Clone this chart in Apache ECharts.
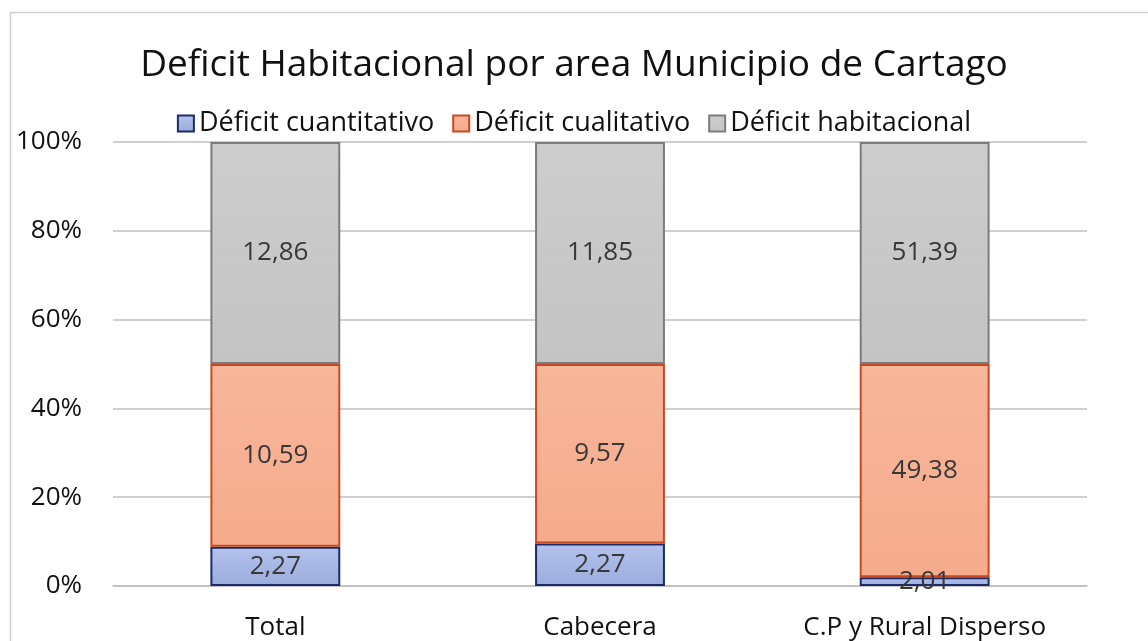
<!DOCTYPE html>
<html>
<head>
<meta charset="utf-8">
<script src="https://cdn.jsdelivr.net/npm/echarts@6/dist/echarts.min.js"></script>
<style>
  html, body { margin: 0; padding: 0; background: #fff; }
  #chart { width: 1148px; height: 641px; }
</style>
</head>
<body>
<div id="chart"></div>
<script>
// Áreas del municipio
const categories = ['Total', 'Cabecera', 'C.P y Rural Disperso'];

// Valores de déficit por área (%)
const cuantitativo = [2.27, 2.27, 2.01];
const cualitativo = [10.59, 9.57, 49.38];
const habitacional = [12.86, 11.85, 51.39];

const seriesNames = ['Déficit cuantitativo', 'Déficit cualitativo', 'Déficit habitacional'];
const yTicks = [0, 20, 40, 60, 80, 100];

const totals = categories.map((_, i) => cuantitativo[i] + cualitativo[i] + habitacional[i]);
const share = arr => arr.map((v, i) => ({ value: v / totals[i] * 100, raw: v }));

const fmt = v => v.toFixed(2).replace('.', ',');
const FONT = 'Open Sans';

function grad(top, bottom) {
  return new echarts.graphic.LinearGradient(0, 0, 0, 1, [
    { offset: 0, color: top }, { offset: 1, color: bottom }
  ]);
}

const styles = [
  { fill: grad('#b4c2ec', '#9badde'), border: '#1c2a66' },
  { fill: grad('#f8b69b', '#f5ab8c'), border: '#c9481d' },
  { fill: grad('#cdcdcd', '#c4c4c4'), border: '#7c7c7c' }
];

const dataSets = [cuantitativo, cualitativo, habitacional];

const chart = echarts.init(document.getElementById('chart'));
chart.setOption({
  animation: false,
  backgroundColor: '#ffffff',
  textStyle: { fontFamily: FONT },
  graphic: [{
    type: 'rect',
    shape: { x: 10.5, y: 12.5, width: 1200, height: 700 },
    style: { fill: 'none', stroke: '#cfcfcf', lineWidth: 1.5 },
    silent: true
  }],
  title: {
    text: 'Deficit Habitacional por area Municipio de Cartago',
    left: 'center',
    top: 42,
    textStyle: { fontFamily: FONT, fontSize: 37, fontWeight: 'normal', color: '#111111' }
  },
  legend: {
    top: 105,
    left: 'center',
    icon: 'rect',
    itemWidth: 16,
    itemHeight: 16,
    itemGap: 18,
    textStyle: { fontFamily: FONT, fontSize: 27, color: '#111111', padding: [0, 0, 0, 0] },
    data: seriesNames
  },
  grid: { left: 113, right: 61, top: 142, bottom: 55, containLabel: false, outerBoundsMode: 'none' },
  xAxis: {
    type: 'category',
    data: categories,
    axisLine: { show: true, lineStyle: { color: '#bfbfbf', width: 1.5 } },
    axisTick: { show: false },
    axisLabel: { fontFamily: FONT, fontSize: 26, color: '#111111', margin: 29 }
  },
  yAxis: {
    type: 'value',
    min: 0,
    max: 100,
    interval: 20,
    axisLine: { show: false },
    axisTick: { show: false },
    splitLine: { lineStyle: { color: '#bfbfbf', width: 1.5 } },
    axisLabel: {
      fontFamily: FONT, fontSize: 26, color: '#111111', margin: 31,
      formatter: v => yTicks.includes(v) ? v + '%' : ''
    }
  },
  series: dataSets.map((arr, k) => ({
    name: seriesNames[k],
    type: 'bar',
    stack: 'total',
    barWidth: '40%',
    data: share(arr),
    itemStyle: { color: styles[k].fill, borderColor: styles[k].border, borderWidth: 2 },
    label: {
      show: true,
      position: 'inside',
      fontFamily: FONT,
      fontSize: 26,
      color: '#383838',
      formatter: p => fmt(p.data.raw)
    }
  }))
});
</script>
</body>
</html>
